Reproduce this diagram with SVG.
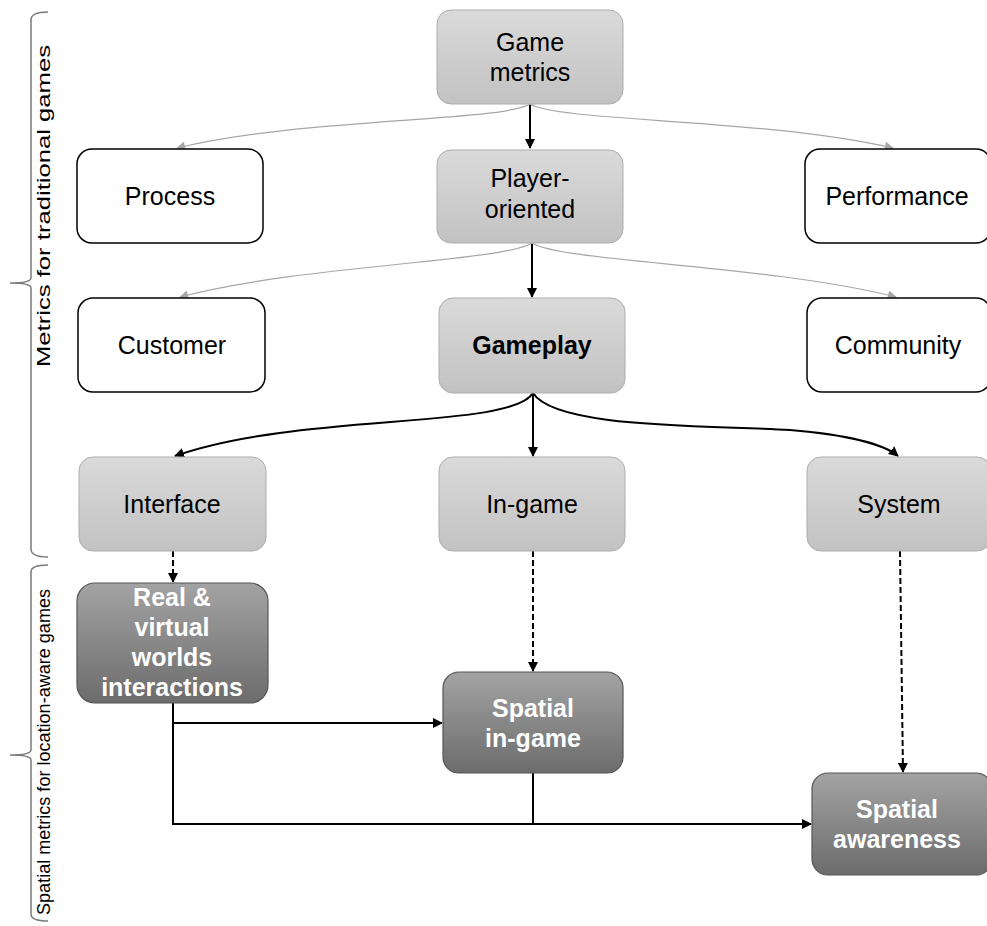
<svg xmlns="http://www.w3.org/2000/svg" width="987" height="926" viewBox="0 0 987 926">
<defs>
<linearGradient id="gLight" x1="0" y1="0" x2="0" y2="1">
<stop offset="0" stop-color="#dadada"/><stop offset="1" stop-color="#c2c2c2"/>
</linearGradient>
<linearGradient id="gDark" x1="0" y1="0" x2="0" y2="1">
<stop offset="0" stop-color="#a3a3a3"/><stop offset="1" stop-color="#6c6c6c"/>
</linearGradient>
<marker id="aBlack" viewBox="0 0 10 10" refX="9" refY="5" markerWidth="10" markerHeight="10" markerUnits="userSpaceOnUse" orient="auto">
<path d="M0,0 L10,5 L0,10 Z" fill="#000"/>
</marker>
<marker id="aGray" viewBox="0 0 10 10" refX="9" refY="5" markerWidth="10" markerHeight="9" markerUnits="userSpaceOnUse" orient="auto">
<path d="M0,0 L10,5 L0,10 Z" fill="#a6a6a6"/>
</marker>
</defs>
<style>
text{font-family:"Liberation Sans",Arial,sans-serif;font-size:25px;text-anchor:middle;fill:#000}
.light{fill:url(#gLight);stroke:#adadad;stroke-width:1}
.white{fill:#fff;stroke:#000;stroke-width:1.5}
.dark{fill:url(#gDark);stroke:#555;stroke-width:1.2}
.wt{fill:#fff;font-weight:bold}
.bold{font-weight:bold}
.blk{fill:none;stroke:#000;stroke-width:2}
.gry{fill:none;stroke:#a6a6a6;stroke-width:1.2}
.dash{fill:none;stroke:#000;stroke-width:2;stroke-dasharray:6,3}
.brace{fill:none;stroke:#7a7a7a;stroke-width:1.5}
.side{font-size:18px;font-family:"Liberation Sans",Arial,sans-serif}
</style>

<g id="brackets">
<path class="brace" d="M48,12 Q31,12 31,20 L31,278 Q31,283 10,283 Q31,283 31,288 L31,549 Q31,557 48,557"/>
<text class="side" transform="translate(50,206) rotate(-90)" textLength="322" lengthAdjust="spacingAndGlyphs">Metrics for traditional games</text>
<path class="brace" d="M48,565 Q31,565 31,572 L31,750 Q31,755 10,755 Q31,755 31,760 L31,914 Q31,921 48,921"/>
<text class="side" transform="translate(50,752) rotate(-90)" textLength="326" lengthAdjust="spacingAndGlyphs">Spatial metrics for location-aware games</text>
</g>

<g id="connectors">
<path class="blk" d="M530,104 L530,148" marker-end="url(#aBlack)"/>
<path class="gry" d="M530,104 C500,122 300,118 177,148" marker-end="url(#aGray)"/>
<path class="gry" d="M530,104 C560,122 760,118 893,148" marker-end="url(#aGray)"/>
<path class="blk" d="M532,243 L532,297" marker-end="url(#aBlack)"/>
<path class="gry" d="M532,243 C502,262 300,265 180,297" marker-end="url(#aGray)"/>
<path class="gry" d="M532,243 C562,262 770,265 896,297" marker-end="url(#aGray)"/>
<path class="blk" d="M533,393 L533,456" marker-end="url(#aBlack)"/>
<path class="blk" d="M533,393 C510,430 300,412 175,456" marker-end="url(#aBlack)"/>
<path class="blk" d="M533,393 C555,428 700,425 790,430 C850,435 885,445 898,456" marker-end="url(#aBlack)"/>
<path class="dash" d="M173,551 L173,582" marker-end="url(#aBlack)"/>
<path class="dash" d="M533,551 L533,671" marker-end="url(#aBlack)"/>
<path class="dash" d="M900,551 L903,772" marker-end="url(#aBlack)"/>
<path class="blk" d="M173,703 L173,824 L811,824" marker-end="url(#aBlack)"/>
<path class="blk" d="M173,723 L442,723" marker-end="url(#aBlack)"/>
<path class="blk" d="M533,773 L533,824"/>
</g>

<g id="game-metrics">
<rect class="light" x="437" y="10" width="186" height="94" rx="14"/>
<text x="530" y="51">Game</text><text x="530" y="81">metrics</text>
</g>
<g id="process">
<rect class="white" x="77" y="149" width="186" height="94" rx="15"/>
<text x="170" y="205">Process</text>
</g>
<g id="player-oriented">
<rect class="light" x="437" y="150" width="186" height="93" rx="14"/>
<text x="530" y="187">Player-</text><text x="530" y="218">oriented</text>
</g>
<g id="performance">
<rect class="white" x="805" y="149" width="186" height="94" rx="15"/>
<text x="897" y="205">Performance</text>
</g>
<g id="customer">
<rect class="white" x="78" y="298" width="187" height="94" rx="15"/>
<text x="172" y="354">Customer</text>
</g>
<g id="gameplay">
<rect class="light" x="439" y="298" width="186" height="95" rx="14"/>
<text class="bold" x="532" y="354">Gameplay</text>
</g>
<g id="community">
<rect class="white" x="807" y="298" width="184" height="94" rx="15"/>
<text x="898" y="354">Community</text>
</g>
<g id="interface">
<rect class="light" x="79" y="457" width="187" height="94" rx="14"/>
<text x="172" y="513">Interface</text>
</g>
<g id="in-game">
<rect class="light" x="439" y="457" width="186" height="94" rx="14"/>
<text x="532" y="513">In-game</text>
</g>
<g id="system">
<rect class="light" x="807" y="457" width="184" height="94" rx="14"/>
<text x="899" y="513">System</text>
</g>
<g id="real-virtual">
<rect class="dark" x="77" y="583" width="191" height="120" rx="18"/>
<text class="wt" x="172" y="606">Real &amp;</text>
<text class="wt" x="172" y="636">virtual</text>
<text class="wt" x="172" y="666">worlds</text>
<text class="wt" x="172" y="696">interactions</text>
</g>
<g id="spatial-in-game">
<rect class="dark" x="443" y="672" width="180" height="101" rx="16"/>
<text class="wt" x="533" y="717">Spatial</text>
<text class="wt" x="533" y="747">in-game</text>
</g>
<g id="spatial-awareness">
<rect class="dark" x="812" y="773" width="180" height="102" rx="16"/>
<text class="wt" x="897" y="818">Spatial</text>
<text class="wt" x="897" y="848">awareness</text>
</g>
</svg>
